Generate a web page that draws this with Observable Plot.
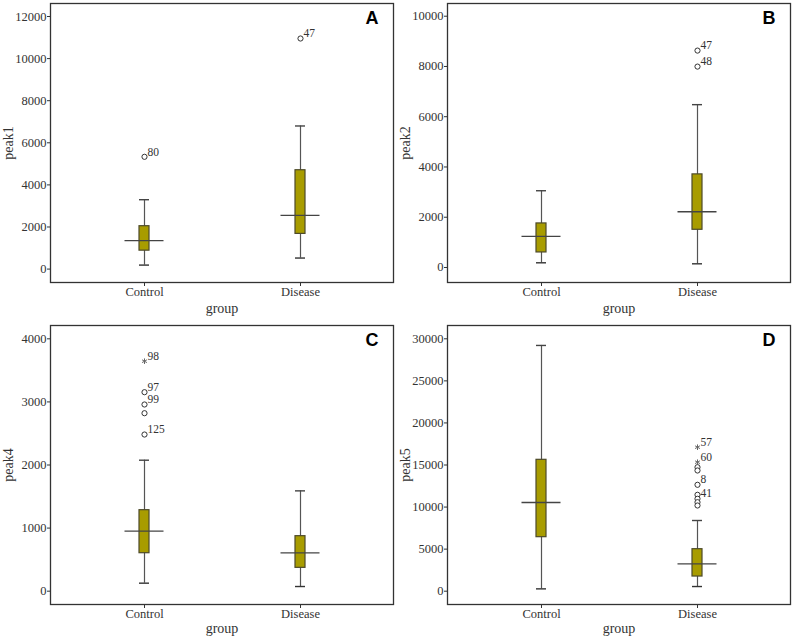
<!DOCTYPE html>
<html><head><meta charset="utf-8">
<script src="https://cdn.jsdelivr.net/npm/d3@7"></script>
<script src="https://cdn.jsdelivr.net/npm/@observablehq/plot@0.6"></script>
<style>
body{margin:0;background:#fff;}
#grid{display:grid;grid-template-columns:397px 397px;grid-template-rows:320px 320px;width:794px;height:640px;}
#grid svg{display:block;}
</style></head><body><div id="grid"></div>
<script>
const groups = ["Control", "Disease"];

// box stats per group: [lower whisker, Q1, median, Q3, upper whisker]
const peak1Box = [[190, 876, 1353, 2038, 3296], [525, 1672, 2548, 4697, 6799]];
const peak2Box = [[186, 598, 1235, 1753, 3054], [146, 1500, 2218, 3705, 6480]];
const peak4Box = [[127, 602, 951, 1284, 2076], [74, 370, 607, 872, 1590]];
const peak5Box = [[277, 6421, 10543, 15616, 29210], [555, 1744, 3250, 4994, 8403]];

// outliers: [group, value, case label, kind ("o" outlier, "*" extreme)]
const peak1Out = [["Control", 5334, "80", "o"], ["Disease", 10955, "47", "o"]];
const peak2Out = [["Disease", 8632, "47", "o"], ["Disease", 7995, "48", "o"]];
const peak4Out = [["Control", 3645, "98", "*"], ["Control", 3154, "97", "o"], ["Control", 2959, "99", "o"],
                  ["Control", 2821, "", "o"], ["Control", 2483, "125", "o"]];
const peak5Out = [["Disease", 17116, "57", "*"], ["Disease", 15333, "60", "*"], ["Disease", 14739, "", "o"],
                  ["Disease", 14347, "", "o"], ["Disease", 12647, "8", "o"], ["Disease", 11458, "", "o"],
                  ["Disease", 10983, "41", "o"], ["Disease", 10579, "", "o"], ["Disease", 10186, "", "o"]];

const peak1Ticks = [0, 2000, 4000, 6000, 8000, 10000, 12000];
const peak2Ticks = [0, 2000, 4000, 6000, 8000, 10000];
const peak4Ticks = [0, 1000, 2000, 3000, 4000];
const peak5Ticks = [0, 5000, 10000, 15000, 20000, 25000, 30000];

const serif = "'Liberation Serif', 'Times New Roman', serif";

function panel(boxRows, outRows, yLabel, letter, domain, ticks, mt, mb) {
  const box = boxRows.map((r, i) => ({group: groups[i], low: r[0], q1: r[1], med: r[2], q3: r[3], high: r[4]}));
  const out = outRows.map(r => ({group: r[0], value: r[1], id: r[2], kind: r[3]}));
  return Plot.plot({
    width: 397, height: 320,
    marginLeft: 50, marginRight: 4, marginTop: mt, marginBottom: mb,
    style: {fontFamily: serif, fontSize: "12.5px", color: "#333", background: "white", overflow: "visible"},
    x: {type: "band", domain: groups, paddingInner: 0.936, paddingOuter: 0.564},
    y: {domain},
    marks: [
      Plot.axisX({tickSize: 4, tickPadding: 1, fontSize: 12.5, fontFamily: serif, fill: "#333", label: null}),
      Plot.axisX({ticks: [], tickSize: 0, fontSize: 14, fontFamily: serif, fill: "#333",
                  label: "group", labelAnchor: "center", labelOffset: mb - 8}),
      Plot.axisY({ticks, tickSize: 3, tickPadding: 1, tickFormat: d => String(d), fontSize: 12.5, fontFamily: serif, fill: "#333", label: null}),
      Plot.axisY({ticks: [], tickSize: 0, fontSize: 14, fontFamily: serif, fill: "#333",
                  label: yLabel, labelAnchor: "center", labelArrow: false}),
      Plot.ruleX(box, {x: "group", y1: "low", y2: "high", stroke: "#555", strokeWidth: 1.2}),
      Plot.tickY(box, {x: "group", y: "low", stroke: "#333", strokeWidth: 1.4}),
      Plot.tickY(box, {x: "group", y: "high", stroke: "#444", strokeWidth: 1.4}),
      Plot.barY(box, {x: "group", y1: "q1", y2: "q3", fill: "#a89c00", stroke: "#4d4a2a", strokeWidth: 1.2}),
      Plot.tickY(box, {x: "group", y: "med", stroke: "#444", strokeWidth: 1.3, insetLeft: -14.5, insetRight: -14.5}),
      Plot.dot(out.filter(d => d.kind === "o"), {x: "group", y: "value", r: 2.6, stroke: "#333", fill: "white", strokeWidth: 1}),
      Plot.dot(out.filter(d => d.kind === "*"), {x: "group", y: "value", symbol: "asterisk", r: 2.6, stroke: "#666", strokeWidth: 1}),
      Plot.text(out.filter(d => d.id), {x: "group", y: "value", text: "id", textAnchor: "start", dx: 3, dy: -5, fontSize: 11.5, fill: "#333"}),
      Plot.frame({stroke: "#333", strokeWidth: 1.3}),
      Plot.text([letter], {text: d => d, frameAnchor: "top-right", dx: -15, dy: 8,
        fontFamily: "'Liberation Sans', Arial, sans-serif", fontWeight: "bold", fontSize: 18, fill: "#000"})
    ]
  });
}

const grid = document.getElementById("grid");
grid.appendChild(panel(peak1Box, peak1Out, "peak1", "A", [-637, 12618], peak1Ticks, 3, 38));
grid.appendChild(panel(peak2Box, peak2Out, "peak2", "B", [-598, 10506], peak2Ticks, 3, 38));
grid.appendChild(panel(peak4Box, peak4Out, "peak4", "C", [-211, 4211], peak4Ticks, 5, 36));
grid.appendChild(panel(peak5Box, peak5Out, "peak5", "D", [-1581, 31581], peak5Ticks, 5, 36));
</script></body></html>
